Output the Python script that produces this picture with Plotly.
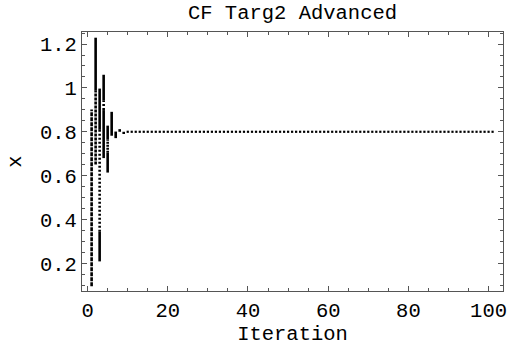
import plotly.graph_objects as go

title_text = "CF Targ2 Advanced"
x_title = "Iteration"
y_title = "x"

# Spread of x values at the early iterations (vertical bands): iteration, low, high, stroke pattern
seg_iter = [1, 2, 2, 3, 3, 3, 4, 4, 4, 5, 5, 5, 6, 7, 8, 9]
seg_low = [0.096, 0.989, 0.651, 0.809, 0.344, 0.209, 0.944, 0.899, 0.680, 0.764, 0.704, 0.614, 0.782, 0.771, 0.800, 0.790]
seg_high = [0.902, 1.229, 0.989, 0.997, 0.809, 0.344, 1.060, 0.944, 0.899, 0.828, 0.764, 0.704, 0.891, 0.801, 0.812, 0.800]
seg_style = ["4px,1px", "solid", "3px,1px", "solid", "2px,2px", "solid",
             "solid", "2px,2px", "solid", "solid", "2px,1px", "solid",
             "solid", "solid", "solid", "solid"]

# Settled values (one point per iteration)
steady_iter = list(range(10, 102))
steady_x = [0.8] * len(steady_iter)

x_ticks = [0, 20, 40, 60, 80, 100]
y_ticks = [0.2, 0.4, 0.6, 0.8, 1.0, 1.2]
y_ticktext = ["0.2", "0.4", "0.6", "0.8", "1", "1.2"]

FONT = "Liberation Mono, Courier New, monospace"
FS = 20.5
FRAME = "#555555"

fig = go.Figure()
for it, lo, hi, st in zip(seg_iter, seg_low, seg_high, seg_style):
    fig.add_trace(go.Scatter(
        x=[it, it], y=[lo, hi], mode="lines",
        line=dict(color="black", width=2.6, dash=st),
        hoverinfo="skip", showlegend=False))

fig.add_trace(go.Scatter(
    x=steady_iter, y=steady_x, mode="markers",
    marker=dict(symbol="square", size=2.2, color="black", line=dict(width=0)),
    showlegend=False))

axis_common = dict(
    showgrid=False, zeroline=False, showline=True, linecolor=FRAME, linewidth=1,
    mirror="allticks", ticks="inside", ticklen=5, tickwidth=1, tickcolor=FRAME,
    tickfont=dict(family=FONT, size=FS, color="black"),
)

fig.update_layout(
    width=517, height=349,
    margin=dict(l=82, r=10, t=32, b=55),
    paper_bgcolor="white", plot_bgcolor="white",
    title=dict(text=title_text, x=0.5, xref="paper", y=1 - 12 / 349, yref="container",
               xanchor="center", yanchor="middle",
               font=dict(family=FONT, size=FS, color="black")),
    xaxis=dict(
        range=[-1.4, 103.6], tickvals=x_ticks,
        minor=dict(dtick=5, tick0=0, ticks="inside", ticklen=3, tickcolor=FRAME, tickwidth=1),
        title=dict(text=x_title, font=dict(family=FONT, size=FS, color="black"), standoff=2),
        **axis_common),
    yaxis=dict(
        range=[0.074, 1.255], tickvals=y_ticks, ticktext=y_ticktext,
        minor=dict(dtick=0.05, tick0=0, ticks="inside", ticklen=3, tickcolor=FRAME, tickwidth=1),
        title=dict(text=y_title, font=dict(family=FONT, size=FS, color="black"), standoff=12),
        **axis_common),
)

fig.write_html("out.html")
